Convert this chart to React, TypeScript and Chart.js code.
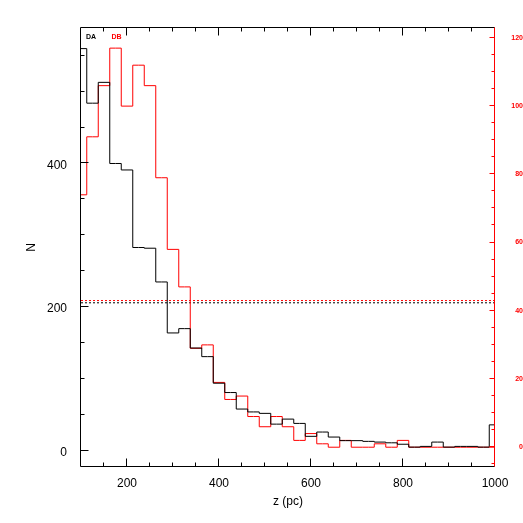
import React, { useEffect, useRef } from "react";
import { Chart, registerables } from "chart.js";

Chart.register(...registerables);

// Bin centres (pc), 25 pc wide bins
const binCenters = [
  100, 125, 150, 175, 200, 225, 250, 275, 300, 325, 350, 375, 400, 425, 450, 475, 500, 525, 550,
  575, 600, 625, 650, 675, 700, 725, 750, 775, 800, 825, 850, 875, 900, 925, 950, 975, 1000,
];
// DA counts (left axis)
const daCounts = [
  560, 484, 513, 400, 391, 283, 282, 235, 164, 170, 143, 131, 94, 81, 58, 54, 52, 37, 44,
  38, 20, 26, 19, 14, 14, 13, 12, 11, 9, 5, 6, 12, 5, 6, 6, 5, 36,
];
// DB counts (right axis)
const dbCounts = [
  74, 91, 106, 117, 100, 112, 106, 79, 58, 47, 29, 30, 19, 14, 15, 9, 6, 9, 6,
  2, 4, 1, 0, 2, 0, 0, 1, 0, 2, 0, 0, 0, 0, 0, 0, 0, 0,
];
// Horizontal dotted reference levels
const daLevel = 206;
const dbLevel = 43;

const xRange = [100, 1000];
const leftRange = [-22.7, 588.7];
const rightRange = [-5.8, 122.9];

const xMajorTicks = [200, 400, 600, 800, 1000];
const xMinorTicks = [150, 250, 300, 350, 450, 500, 550, 650, 700, 750, 850, 900, 950];
const leftMajorTicks = [0, 200, 400];
const leftMinorTicks = [50, 100, 150, 250, 300, 350, 450, 500, 550];
const rightMajorTicks = [0, 20, 40, 60, 80, 100, 120];
const rightMinorTicks = [-5, 5, 10, 15, 25, 30, 35, 45, 50, 55, 65, 70, 75, 85, 90, 95, 105, 110, 115];

const seriesNames = ["DA", "DB"];
const FONT = "'Liberation Sans', Arial, Helvetica, sans-serif";

const frameTicksPlugin = {
  id: "frameTicks",
  afterDatasetsDraw(chart: any) {
    const { ctx, chartArea: a, scales } = chart;
    const xs = scales.x;
    const yl = scales.y;
    const yr = scales.y2;
    const snap = (p: number) => Math.round(p) - 0.5;
    const L = snap(a.left);
    const R = snap(a.right);
    const T = snap(a.top);
    const B = snap(a.bottom);
    ctx.save();
    ctx.lineWidth = 1;
    ctx.setLineDash([]);
    // black frame (left, top, bottom)
    ctx.strokeStyle = "#000";
    ctx.beginPath();
    ctx.moveTo(R, T);
    ctx.lineTo(L, T);
    ctx.lineTo(L, B);
    ctx.lineTo(R, B);
    // x ticks top & bottom
    const xt = (vals: number[], len: number) => {
      vals.forEach((v) => {
        const x = snap(xs.getPixelForValue(v));
        ctx.moveTo(x, B);
        ctx.lineTo(x, B - len);
        ctx.moveTo(x, T);
        ctx.lineTo(x, T + len);
      });
    };
    xt(xMajorTicks, 8);
    xt(xMinorTicks, 4);
    const lt = (vals: number[], len: number) => {
      vals.forEach((v) => {
        const y = snap(yl.getPixelForValue(v));
        ctx.moveTo(L, y);
        ctx.lineTo(L + len, y);
      });
    };
    lt(leftMajorTicks, 8);
    lt(leftMinorTicks, 4);
    ctx.stroke();
    // red right axis
    ctx.strokeStyle = "#ff0000";
    ctx.beginPath();
    ctx.moveTo(R, T);
    ctx.lineTo(R, B);
    const rt = (vals: number[], len: number) => {
      vals.forEach((v) => {
        const y = snap(yr.getPixelForValue(v));
        ctx.moveTo(R, y);
        ctx.lineTo(R - len, y);
      });
    };
    rt(rightMajorTicks, 5);
    rt(rightMinorTicks, 3);
    ctx.stroke();
    // series labels
    ctx.font = `bold 7px ${FONT}`;
    ctx.textBaseline = "alphabetic";
    ctx.textAlign = "left";
    ctx.fillStyle = "#000";
    ctx.fillText(seriesNames[0], a.left + 5, a.top + 11);
    ctx.fillStyle = "#ff0000";
    ctx.fillText(seriesNames[1], a.left + 30.5, a.top + 11);
    ctx.restore();
  },
};

export default function App() {
  const canvasRef = useRef<HTMLCanvasElement | null>(null);

  useEffect(() => {
    const canvas = canvasRef.current;
    if (!canvas) return;
    const daData = binCenters.map((x, i) => ({ x, y: daCounts[i] }));
    const dbData = binCenters.map((x, i) => ({ x, y: dbCounts[i] }));
    const chart = new Chart(canvas, {
      type: "line",
      data: {
        datasets: [
          {
            label: "DA",
            data: daData,
            yAxisID: "y",
            stepped: "middle",
            borderColor: "#000000",
            borderWidth: 1,
            pointRadius: 0,
            fill: false,
          },
          {
            label: "DB",
            data: dbData,
            yAxisID: "y2",
            stepped: "middle",
            borderColor: "#ff0000",
            borderWidth: 1,
            pointRadius: 0,
            fill: false,
          },
          {
            label: "DA level",
            data: [
              { x: xRange[0], y: daLevel },
              { x: xRange[1], y: daLevel },
            ],
            yAxisID: "y",
            borderColor: "#000000",
            borderWidth: 1,
            borderDash: [2, 2],
            pointRadius: 0,
            fill: false,
          },
          {
            label: "DB level",
            data: [
              { x: xRange[0], y: dbLevel },
              { x: xRange[1], y: dbLevel },
            ],
            yAxisID: "y2",
            borderColor: "#ff0000",
            borderWidth: 1,
            borderDash: [2, 2],
            pointRadius: 0,
            fill: false,
          },
        ],
      },
      options: {
        responsive: false,
        animation: false,
        devicePixelRatio: 1,
        layout: { padding: { top: 28, left: 0, right: 0, bottom: 0 } },
        plugins: {
          legend: { display: false },
          tooltip: { enabled: false },
        },
        scales: {
          x: {
            type: "linear",
            position: "bottom",
            min: xRange[0],
            max: xRange[1],
            grid: { display: false, drawTicks: false },
            border: { display: false },
            afterBuildTicks: (s: any) => {
              s.ticks = xMajorTicks.map((v) => ({ value: v }));
            },
            afterFit: (s: any) => {
              s.height = 56;
            },
            ticks: {
              autoSkip: false,
              maxRotation: 0,
              padding: 9,
              color: "#000",
              font: { family: FONT, size: 12 },
              callback: (v: any) => String(v),
            },
            title: {
              display: true,
              text: "z (pc)",
              color: "#000",
              font: { family: FONT, size: 12 },
              padding: { top: 0, bottom: 14 },
            },
          },
          y: {
            type: "linear",
            position: "left",
            min: leftRange[0],
            max: leftRange[1],
            grid: { display: false, drawTicks: false },
            border: { display: false },
            afterBuildTicks: (s: any) => {
              s.ticks = leftMajorTicks.map((v) => ({ value: v }));
            },
            afterFit: (s: any) => {
              s.width = 81;
            },
            ticks: {
              autoSkip: false,
              padding: 14,
              labelOffset: 2,
              color: "#000",
              font: { family: FONT, size: 12 },
              callback: (v: any) => String(v),
            },
            title: {
              display: true,
              text: "N",
              color: "#000",
              font: { family: FONT, size: 12 },
              padding: { top: 24, bottom: 0 },
            },
          },
          y2: {
            type: "linear",
            position: "right",
            min: rightRange[0],
            max: rightRange[1],
            grid: { display: false, drawTicks: false },
            border: { display: false },
            afterBuildTicks: (s: any) => {
              s.ticks = rightMajorTicks.map((v) => ({ value: v }));
            },
            afterFit: (s: any) => {
              s.width = 28;
            },
            ticks: {
              autoSkip: false,
              padding: 11.5,
              crossAlign: "far",
              color: "#ff0000",
              font: { family: FONT, size: 7, weight: "bold" },
              callback: (v: any) => String(v),
            },
          },
        },
      },
      plugins: [frameTicksPlugin],
    } as any);
    return () => chart.destroy();
  }, []);

  return (
    <canvas
      ref={canvasRef}
      width={523}
      height={523}
      style={{ position: "absolute", left: 0, top: 0, width: 523, height: 523, background: "#fff" }}
    />
  );
}
